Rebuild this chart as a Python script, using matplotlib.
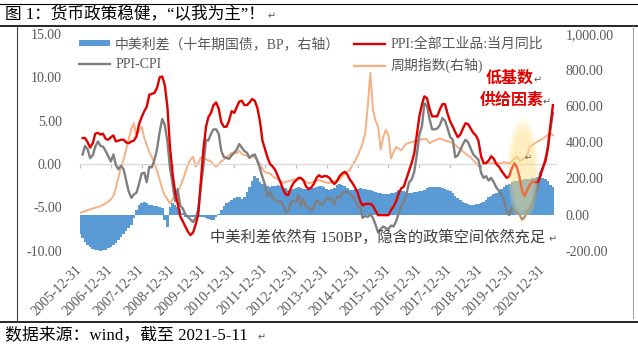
import matplotlib
matplotlib.use("Agg")
import matplotlib.pyplot as plt
import matplotlib.dates as mdates
from matplotlib.lines import Line2D
from matplotlib.patches import Patch, Ellipse
import pandas as pd

W, H = 638, 348

# PPI year-on-year (%), monthly, Jan 2006 - Apr 2021
ppi = [
    3.0, 3.0, 2.5, 1.9, 2.4, 3.5, 3.6, 3.4, 3.5, 2.9, 2.8, 3.1,
    3.3, 2.6, 2.7, 2.8, 2.8, 2.5, 2.4, 2.6, 2.7, 3.2, 4.6, 5.4,
    6.1, 6.6, 8.0, 8.1, 8.2, 8.8, 10.0, 10.1, 9.1, 6.6, 2.0, -1.1,
    -3.3, -4.5, -6.0, -6.6, -7.2, -7.8, -8.2, -7.9, -7.0, -5.8, -2.1, 1.7,
    4.3, 5.4, 5.9, 6.8, 7.1, 6.4, 4.8, 4.3, 4.3, 5.0, 6.1, 5.9,
    6.6, 7.2, 7.3, 6.8, 6.8, 7.1, 7.5, 7.3, 6.5, 5.0, 2.7, 1.7,
    0.7, 0.0, -0.3, -0.7, -1.4, -2.1, -2.9, -3.5, -3.6, -2.8, -2.2, -1.9,
    -1.6, -1.6, -1.9, -2.6, -2.9, -2.7, -2.3, -1.6, -1.3, -1.5, -1.4, -1.4,
    -1.6, -2.0, -2.3, -2.0, -1.4, -1.1, -0.9, -1.2, -1.8, -2.2, -2.7, -3.3,
    -4.3, -4.8, -4.6, -4.6, -4.6, -4.8, -5.4, -5.9, -5.9, -5.9, -5.9, -5.9,
    -5.3, -4.9, -4.3, -3.4, -2.8, -2.6, -1.7, -0.8, 0.1, 1.2, 3.3, 5.5,
    6.9, 7.8, 7.6, 6.4, 5.5, 5.5, 5.5, 6.3, 6.9, 6.9, 5.8, 4.9,
    4.3, 3.7, 3.1, 3.4, 4.1, 4.7, 4.6, 4.1, 3.6, 3.3, 2.7, 0.9,
    0.1, 0.1, 0.4, 0.9, 0.6, 0.0, -0.3, -0.8, -1.2, -1.6, -1.4, -0.5,
    0.1, -0.4, -1.5, -3.1, -3.7, -3.0, -2.4, -2.0, -2.1, -2.1, -1.5, -0.4,
    0.3, 1.7, 4.4, 6.8,
]

# PPI minus CPI (percentage points), same months
ppi_cpi = [
    1.1, 2.1, 1.7, 0.7, 1.0, 2.0, 2.6, 2.1, 2.0, 1.5, 0.9, 0.3,
    1.1, -0.1, -0.6, -0.2, -0.6, -1.9, -3.2, -3.9, -3.5, -3.3, -2.3, -1.1,
    -1.0, -2.1, -0.3, -0.4, 0.5, 1.7, 3.7, 5.2, 4.5, 2.6, -0.4, -2.3,
    -4.3, -2.9, -4.8, -5.1, -5.8, -6.1, -6.4, -6.7, -6.2, -5.3, -2.7, -0.2,
    2.8, 2.7, 3.5, 4.0, 4.0, 3.5, 1.5, 0.8, 0.7, 0.6, 1.0, 1.3,
    1.7, 2.3, 1.9, 1.5, 1.3, 0.7, 1.0, 1.1, 0.4, -0.5, -1.5, -2.4,
    -3.8, -3.2, -3.9, -4.1, -4.4, -4.3, -4.7, -5.5, -5.5, -4.5, -4.2, -4.4,
    -3.6, -4.8, -4.0, -5.0, -5.0, -5.4, -5.0, -4.2, -4.4, -4.7, -4.4, -3.9,
    -4.1, -4.0, -4.7, -3.8, -3.9, -3.4, -3.2, -3.2, -3.4, -3.8, -4.1, -4.8,
    -5.1, -6.2, -6.0, -6.1, -5.8, -6.2, -7.0, -7.9, -7.5, -7.2, -7.4, -7.5,
    -7.1, -7.2, -6.6, -5.7, -4.8, -4.5, -3.5, -2.1, -1.8, -0.9, 1.0, 3.4,
    4.4, 7.0, 6.7, 5.2, 4.0, 4.0, 4.1, 4.5, 5.3, 5.0, 4.1, 3.1,
    2.8, 0.8, 1.0, 1.6, 2.3, 2.8, 2.5, 1.8, 1.1, 0.8, 0.5, -1.0,
    -1.6, -1.4, -1.9, -1.6, -2.1, -2.7, -3.1, -3.6, -4.2, -5.4, -5.9, -5.0,
    -5.3, -5.6, -5.8, -6.4, -6.1, -5.5, -5.1, -4.4, -3.8, -2.6, -1.0, -0.6,
    0.6, 1.9, 4.0, 5.9,
]

# Cyclical sector index (right axis), month-end, Dec 2005 - Apr 2021
cycle = [
    10, 14, 18, 25, 30, 34, 38, 42, 46, 54,
    62, 72, 85, 102, 145, 205, 265, 305, 360, 420,
    475, 505, 435, 470, 486, 425, 385, 345, 318, 285,
    240, 195, 140, 105, 85, 62, 85, 105, 125, 155,
    190, 232, 275, 305, 320, 265, 285, 315, 318, 305,
    300, 295, 278, 265, 280, 295, 305, 320, 328, 342,
    345, 340, 355, 336, 330, 325, 320, 322, 318, 295,
    283, 255, 235, 230, 228, 212, 203, 195, 188, 175,
    180, 185, 188, 193, 196, 200, 196, 188, 180, 175,
    176, 183, 188, 191, 186, 181, 177, 175, 178, 184,
    190, 195, 210, 226, 238, 246, 275, 296, 325, 360,
    395, 450, 600, 785, 580, 520, 486, 360, 431, 470,
    440, 310, 345, 375, 365, 357, 375, 392, 398, 400,
    405, 408, 412, 418, 420, 415, 395, 403, 410, 416,
    422, 415, 410, 406, 403, 395, 385, 372, 365, 350,
    338, 325, 318, 300, 285, 270, 268, 285, 290, 284,
    283, 285, 286, 283, 286, 290, 287, 283, 295, 310,
    320, 300, 302, 315, 330, 375, 385, 395, 405, 412,
    420, 430, 440, 450, 440,
]

# China-US 10Y government bond yield spread (bp, right axis), same dates
spread = [
    -105, -130, -150, -170, -182, -190, -195, -198, -200, -198,
    -194, -185, -178, -166, -156, -140, -125, -108, -92, -75,
    -55, -20, 25, 55, 64, 70, 62, 55, 52, 50,
    46, 43, 35, -30, -70, 40, 62, 55, 42, 30,
    10, -15, -20, -12, -16, -14, -10, -12, -15, -18,
    -22, -28, -30, -12, 5, 25, 45, 62, 72, 82,
    92, 99, 96, 85, 100, 125, 150, 185, 212, 200,
    182, 172, 165, 158, 154, 158, 160, 163, 160, 152,
    145, 138, 138, 143, 148, 150, 146, 141, 140, 144,
    146, 149, 154, 159, 157, 151, 142, 137, 142, 149,
    162, 172, 166, 160, 145, 136, 138, 140, 143, 145,
    142, 140, 138, 136, 130, 124, 119, 117, 116, 115,
    116, 118, 122, 127, 134, 133, 128, 123, 120, 121,
    124, 126, 128, 132, 138, 146, 153, 155, 155, 152,
    150, 145, 140, 135, 130, 118, 104, 92, 78, 70,
    62, 56, 53, 54, 56, 60, 65, 72, 82, 95,
    103, 112, 120, 132, 143, 153, 165, 172, 178, 184,
    188, 191, 193, 195, 195, 196, 200, 205, 208, 209,
    205, 198, 185, 165, 155,
]

tick_labels = [
    "2005-12-31", "2006-12-31", "2007-12-31", "2008-12-31", "2009-12-31",
    "2010-12-31", "2011-12-31", "2012-12-31", "2013-12-31", "2014-12-31",
    "2015-12-31", "2016-12-31", "2017-12-31", "2018-12-31", "2019-12-31",
    "2020-12-31",
]

left_ticks = [-10, -5, 0, 5, 10, 15]
right_ticks = [-200, 0, 200, 400, 600, 800, 1000]

ppi_dates = pd.date_range("2006-01-01", periods=len(ppi), freq="MS") + pd.offsets.MonthEnd(0)
idx_dates = pd.date_range("2005-12-01", periods=len(cycle), freq="MS") + pd.offsets.MonthEnd(0)

C_BLUE = "#5B9BD5"
C_RED = "#E00000"
C_GRAY = "#7F7F7F"
C_ORANGE = "#F4B183"
C_TEXT = "#595959"

SERIF_CJK = ["Liberation Serif", "Noto Sans CJK SC", "DejaVu Sans"]
CJK = ["Noto Sans CJK SC", "DejaVu Sans"]


def fx(px):
    return px / W


def fy(py):
    return 1 - py / H


fig = plt.figure(figsize=(W / 100, H / 100), dpi=100)
fig.patch.set_facecolor("white")

ax = fig.add_axes([fx(80), fy(250.7), fx(556) - fx(80), fy(34) - fy(250.7)])
ax2 = ax.twinx()
ax.set_zorder(ax2.get_zorder() + 1)
ax.patch.set_visible(False)

# right-axis series: spread bars and cycle index
ax2.bar(idx_dates, spread, width=31, color=C_BLUE, linewidth=0, zorder=1)
ax2.plot(idx_dates, cycle, color=C_ORANGE, lw=1.4, zorder=2)

# left-axis series
ax.plot(ppi_dates, ppi_cpi, color=C_GRAY, lw=1.7, zorder=3)
ax.plot(ppi_dates, ppi, color=C_RED, lw=1.7, zorder=4)

x0 = mdates.date2num(pd.Timestamp("2005-12-31"))
x1 = x0 + 476 / 30.85 * 365.25
ax.set_xlim(x0, x1)
ax2.set_xlim(x0, x1)
ax.set_ylim(-10, 15)
ax2.set_ylim(-200, 1000)

for a in (ax, ax2):
    for s in a.spines.values():
        s.set_visible(False)

ax.set_yticks(left_ticks)
ax.set_yticklabels([f"{v:.2f}" for v in left_ticks])
ax2.set_yticks(right_ticks)
ax2.set_yticklabels([f"{v:,.2f}" for v in right_ticks])
ax.tick_params(axis="y", length=0, pad=13, labelsize=10, labelcolor=C_TEXT)
ax2.tick_params(axis="y", length=0, pad=7, labelsize=10, labelcolor=C_TEXT)
for lab in ax.get_yticklabels() + ax2.get_yticklabels():
    lab.set_family(SERIF_CJK)

tick_pos = [mdates.date2num(pd.Timestamp(s)) for s in tick_labels]
ax.set_xticks(tick_pos)
ax.set_xticklabels(tick_labels)
ax.tick_params(axis="x", length=0, pad=12, labelsize=10, labelcolor=C_TEXT)
for lab in ax.get_xticklabels():
    lab.set_rotation(45)
    lab.set_ha("right")
    lab.set_va("center")
    lab.set_rotation_mode("anchor")
    lab.set_family(SERIF_CJK)

# category axis drawn through zero with small tick marks
zero_frac = (0 - (-10)) / 25
sec = ax.secondary_xaxis(zero_frac)
sec.set_xticks(tick_pos)
sec.tick_params(axis="x", length=3, width=0.8, color="#BFBFBF", direction="out",
                labelbottom=False, labeltop=False)
for s in sec.spines.values():
    s.set_visible(False)
sec.spines["bottom"].set_visible(True)
sec.spines["bottom"].set_color("#D9D9D9")
sec.spines["bottom"].set_linewidth(0.9)

# highlighted region around the 2020 trough
e_center = mdates.date2num(pd.Timestamp("2020-05-10"))
e_w = 360
for k in (1.0, 0.9, 0.78):
    ax.add_patch(Ellipse((e_center, -0.8), e_w * k, 12.0 * k,
                         facecolor="#FFDF80", edgecolor="none", alpha=0.2, zorder=6))

# legend
handles = [
    Patch(facecolor=C_BLUE, edgecolor="none"),
    Line2D([], [], color=C_GRAY, lw=1.7),
    Line2D([], [], color=C_RED, lw=1.7),
    Line2D([], [], color=C_ORANGE, lw=1.7),
]
labels = ["中美利差（十年期国债，BP，右轴）", "PPI-CPI", "PPI:全部工业品:当月同比", "周期指数(右轴)"]
leg = fig.legend(handles, labels, ncol=2, loc="upper left",
                 bbox_to_anchor=(fx(79), fy(37)), frameon=False,
                 borderpad=0, borderaxespad=0, handlelength=2.2, handleheight=0.35,
                 handletextpad=0.4, columnspacing=1.0, labelspacing=0.5,
                 prop={"family": SERIF_CJK, "size": 10})
for t in leg.get_texts():
    t.set_color(C_TEXT)

# annotations
fig.text(fx(510), fy(78), "低基数", color="#E00000", fontsize=11.5, fontweight="bold",
         family=CJK, ha="center", va="center")
fig.text(fx(512), fy(100), "供给因素", color="#E00000", fontsize=11.5, fontweight="bold",
         family=CJK, ha="center", va="center")
fig.text(fx(538), fy(80), "↵", color=C_TEXT, fontsize=7, family=["DejaVu Sans"],
         ha="center", va="center")
fig.text(fx(547), fy(102), "↵", color=C_TEXT, fontsize=7, family=["DejaVu Sans"],
         ha="center", va="center")
fig.text(fx(528), fy(157), "↵", color=C_TEXT, fontsize=6, family=["DejaVu Sans"],
         ha="center", va="center", zorder=10)
fig.text(fx(210), fy(237), "中美利差依然有 150BP，隐含的政策空间依然充足",
         color="#404040", fontsize=11, family=SERIF_CJK, ha="left", va="center")
fig.text(fx(553), fy(239), "↵", color=C_TEXT, fontsize=7, family=["DejaVu Sans"],
         ha="center", va="center")

# title and source lines
fig.text(fx(5), fy(15), "图 1：货币政策稳健，“以我为主”！", color="black", fontsize=12,
         family=SERIF_CJK, ha="left", va="center")
fig.text(fx(272), fy(16), "↵", color=C_TEXT, fontsize=7, family=["DejaVu Sans"],
         ha="center", va="center")
fig.text(fx(5), fy(335), "数据来源：wind，截至 2021-5-11", color="black", fontsize=12.2,
         family=SERIF_CJK, ha="left", va="center")
fig.text(fx(262), fy(337), "↵", color=C_TEXT, fontsize=7, family=["DejaVu Sans"],
         ha="center", va="center")

# frame rules
fig.add_artist(Line2D([0, 1], [fy(4), fy(4)], color="black", lw=0.8))
fig.add_artist(Line2D([0, 1], [fy(26), fy(26)], color="black", lw=1.2))
fig.add_artist(Line2D([0, 1], [fy(321.5), fy(321.5)], color="black", lw=1.2))
fig.add_artist(Line2D([fx(16.5), fx(16.5)], [fy(26), fy(321.5)], color="#404040", lw=0.8))
fig.add_artist(Line2D([fx(633), fx(633)], [fy(26), fy(318)], color="#A6A6A6", lw=0.8))

fig.savefig("out.png", dpi=100)
